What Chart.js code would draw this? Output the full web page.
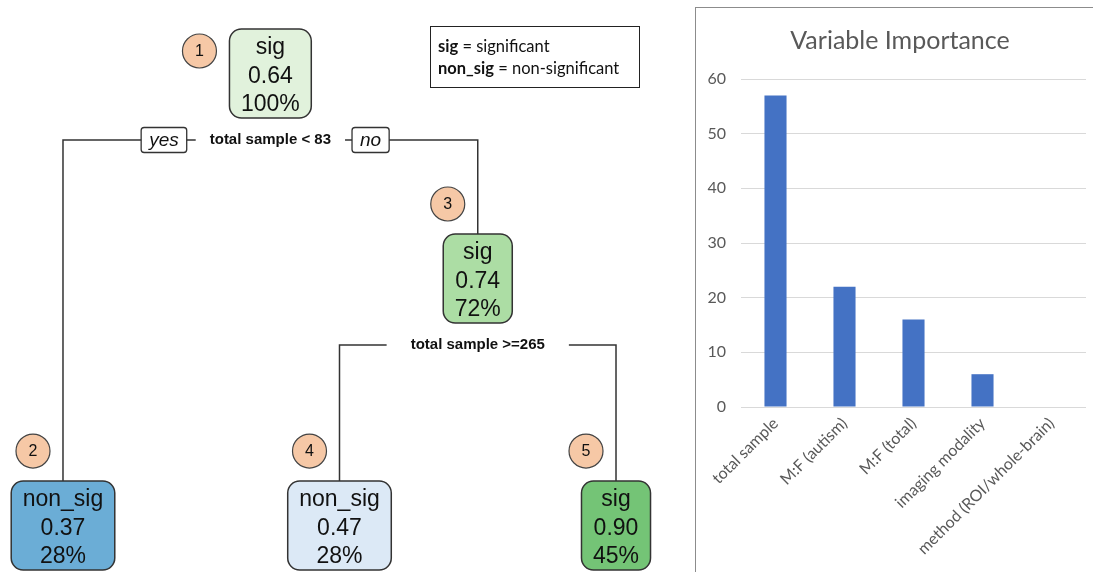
<!DOCTYPE html>
<html>
<head>
<meta charset="utf-8">
<script src="https://cdn.jsdelivr.net/npm/chart.js@4.4.1/dist/chart.umd.min.js"></script>
<style>
  html, body { margin: 0; padding: 0; background: #fff; overflow: hidden; width: 1093px; height: 572px; }
  #tree { position: absolute; left: 0; top: 0; }
  #legendBox {
    position: absolute; left: 430px; top: 26px; width: 201px; height: 52px;
    border: 1.5px solid #222; padding: 8px 0 0 7px;
    font: 16.5px Lato, sans-serif; line-height: 22px; color: #111;
  }
  #panel { position: absolute; left: 695px; top: 7px; width: 460px; height: 640px; border: 1.5px solid #8c8c8c; }
  #imp { position: absolute; left: 697px; top: 9px; }
</style>
</head>
<body>
<canvas id="tree" width="690" height="572"></canvas>
<div id="legendBox"><b>sig</b> = significant<br><b>non_sig</b> = non-significant</div>
<div id="panel"></div>
<canvas id="imp" width="396" height="563"></canvas>

<script>
// ─── Tree data ────────────────────────────────────────────────────────────────
const nodeIds    = [1, 2, 3, 4, 5];
const nodeParent = [null, 1, 1, 3, 3];
const nodeClass  = ['sig', 'non_sig', 'sig', 'non_sig', 'sig'];
const nodeProb   = ['0.64', '0.37', '0.74', '0.47', '0.90'];
const nodePct    = ['100%', '28%', '72%', '28%', '45%'];
const splitNodes = [1, 3];
const splitText  = ['total sample < 83', 'total sample >=265'];
const branchText = ['yes', 'no'];

// ─── Variable importance data ─────────────────────────────────────────────────
const importanceVars   = ['total sample', 'M:F (autism)', 'M:F (total)', 'imaging modality', 'method (ROI/whole-brain)'];
const importanceValues = [57, 22, 16, 6, 0];
const importanceTicks  = [0, 10, 20, 30, 40, 50, 60];

// ─── Styles ───────────────────────────────────────────────────────────────────
const nodeFill = ['#e1f2dc', '#6badd6', '#acdda4', '#dce9f6', '#74c476'];
const LEAF_LEVEL = 2.205;
const BOX_H = 89;
const TREE_FONT = '"Liberation Sans", Arial, sans-serif';
const XL_FONT = 'Lato, sans-serif';

// ─── Tree layout: leaves in order, parents centred over children ─────────────
const kidsOf = id => nodeIds.filter((n, i) => nodeParent[i] === id);
const layout = {};
let leafIdx = 0;
function place(id, depth) {
    const kids = kidsOf(id);
    if (!kids.length) {
        layout[id] = { x: leafIdx++, y: LEAF_LEVEL };
        return;
    }
    kids.forEach(k => place(k, depth + 1));
    layout[id] = { x: kids.reduce((s, k) => s + layout[k].x, 0) / kids.length, y: depth };
}
place(nodeIds[0], 0);
const nodePoints = nodeIds.map(id => layout[id]);

const treePlugin = {
    id: 'treeDraw',
    afterDatasetsDraw(chart) {
        const ctx = chart.ctx;
        const pts = chart.getDatasetMeta(0).data;
        const idx = id => nodeIds.indexOf(id);

        // box geometry per node
        ctx.font = '23px ' + TREE_FONT;
        const boxes = nodeIds.map((id, i) => {
            const w = Math.max(...[nodeClass[i], nodeProb[i], nodePct[i]].map(t => ctx.measureText(t).width)) + 23;
            return { cx: pts[i].x, cy: pts[i].y, w, top: pts[i].y - BOX_H / 2, bottom: pts[i].y + BOX_H / 2 };
        });

        // branches
        ctx.strokeStyle = '#333';
        ctx.lineWidth = 1.5;
        splitNodes.forEach((sid, s) => {
            const b = boxes[idx(sid)];
            const kids = kidsOf(sid).map(k => boxes[idx(k)]);
            const y = b.bottom + 22;
            ctx.font = 'bold 15px ' + TREE_FONT;
            const tw = ctx.measureText(splitText[s]).width;
            const gap = s === 0 ? 14 : 24;
            const gl = b.cx - tw / 2 - gap, gr = b.cx + tw / 2 + gap;
            const L = kids[0], R = kids[kids.length - 1];
            ctx.beginPath();
            ctx.moveTo(L.cx, L.top); ctx.lineTo(L.cx, y); ctx.lineTo(gl, y);
            ctx.moveTo(gr, y); ctx.lineTo(R.cx, y); ctx.lineTo(R.cx, R.top);
            ctx.stroke();

            ctx.fillStyle = '#111';
            ctx.textAlign = 'center';
            ctx.textBaseline = 'middle';
            ctx.fillText(splitText[s], b.cx, y);

            if (s === 0) {
                ctx.font = 'italic 19px ' + TREE_FONT;
                branchText.forEach((t, j) => {
                    const w = ctx.measureText(t).width + 16;
                    const x0 = j === 0 ? gl - 9 - w : gr + 7;
                    ctx.beginPath();
                    ctx.roundRect(x0, y - 12.5, w, 25, 3);
                    ctx.fillStyle = '#fff';
                    ctx.fill();
                    ctx.lineWidth = 1.3;
                    ctx.stroke();
                    ctx.fillStyle = '#111';
                    ctx.fillText(t, x0 + w / 2, y + 1);
                });
                ctx.lineWidth = 1.5;
            }
        });

        // node boxes
        boxes.forEach((b, i) => {
            ctx.beginPath();
            ctx.roundRect(b.cx - b.w / 2, b.top, b.w, BOX_H, 12);
            ctx.fillStyle = nodeFill[i];
            ctx.fill();
            ctx.strokeStyle = '#333';
            ctx.lineWidth = 1.5;
            ctx.stroke();
            ctx.fillStyle = '#111';
            ctx.font = '23px ' + TREE_FONT;
            ctx.textAlign = 'center';
            ctx.textBaseline = 'middle';
            [nodeClass[i], nodeProb[i], nodePct[i]].forEach((t, k) => ctx.fillText(t, b.cx, b.top + 19 + k * 28.5));

            // node number
            const root = nodeParent[i] === null;
            const cx = root ? b.cx - b.w / 2 - 30 : b.cx - 30;
            const cy = root ? b.top + 22 : b.top - 30;
            ctx.beginPath();
            ctx.arc(cx, cy, 17, 0, Math.PI * 2);
            ctx.fillStyle = '#f6c8a6';
            ctx.fill();
            ctx.lineWidth = 1.2;
            ctx.strokeStyle = '#444';
            ctx.stroke();
            ctx.fillStyle = '#111';
            ctx.font = '16px ' + TREE_FONT;
            ctx.fillText(String(nodeIds[i]), cx, cy + 1);
        });
    }
};

new Chart(document.getElementById('tree'), {
    type: 'scatter',
    data: { datasets: [{ data: nodePoints, pointRadius: 0 }] },
    options: {
        responsive: false,
        animation: false,
        events: [],
        layout: { padding: 0 },
        plugins: { legend: { display: false }, tooltip: { enabled: false } },
        scales: {
            x: { type: 'linear', display: false, min: -0.2278, max: 2.2676 },
            y: { type: 'linear', display: false, reverse: true, min: -0.3585, max: 2.4317 }
        }
    },
    plugins: [treePlugin]
});

// ─── Variable importance bar chart ────────────────────────────────────────────
const titlePlugin = {
    id: 'panelTitle',
    afterDraw(chart) {
        const ctx = chart.ctx;
        ctx.save();
        ctx.font = '25px ' + XL_FONT;
        ctx.fillStyle = '#595959';
        ctx.textAlign = 'center';
        ctx.textBaseline = 'middle';
        ctx.fillText('Variable Importance', 203, 32);
        ctx.restore();
    }
};

new Chart(document.getElementById('imp'), {
    type: 'bar',
    data: {
        labels: importanceVars,
        datasets: [{
            data: importanceValues,
            backgroundColor: '#4472c4',
            barPercentage: 0.32,
            categoryPercentage: 1
        }]
    },
    options: {
        responsive: false,
        animation: false,
        events: [],
        layout: { padding: { top: 70, right: 7, left: 0, bottom: 0 } },
        plugins: { legend: { display: false }, tooltip: { enabled: false } },
        scales: {
            x: {
                grid: { display: false, drawTicks: false },
                border: { display: false },
                ticks: {
                    color: '#595959', font: { family: XL_FONT, size: 16 },
                    minRotation: 45, maxRotation: 45, autoSkip: false, padding: 7
                },
                afterFit(s) { s.height = 165; }
            },
            y: {
                min: 0, max: 60,
                afterBuildTicks(s) { s.ticks = importanceTicks.map(v => ({ value: v })); },
                grid: { color: '#d9d9d9', drawTicks: false },
                border: { display: false },
                ticks: { color: '#595959', font: { family: XL_FONT, size: 16 }, padding: 15 },
                afterFit(s) { s.width = 44; }
            }
        }
    },
    plugins: [titlePlugin]
});
</script>
</body>
</html>
